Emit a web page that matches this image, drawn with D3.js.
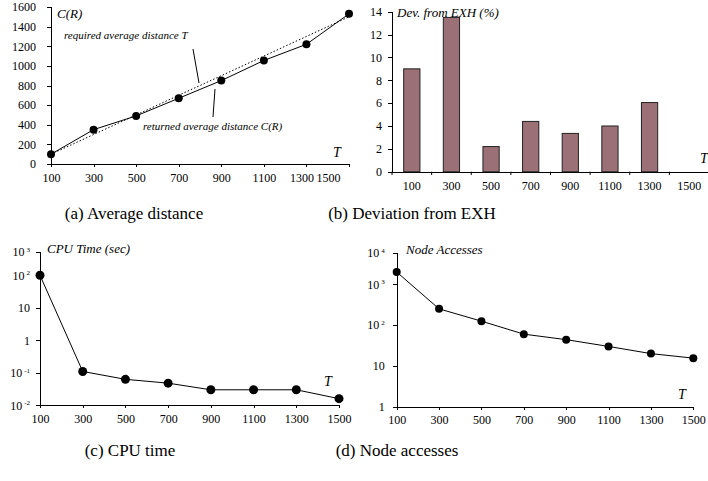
<!DOCTYPE html>
<meta charset="utf-8">
<style>
body { margin: 0; background: #fff; }
svg text { font-family: "Liberation Serif", "Times New Roman", serif; }
.axis path, .axis line { fill: none; stroke: #000; shape-rendering: crispEdges; }
.axis text { font-size: 12px; fill: #000; font-family: "Liberation Serif", "Times New Roman", serif; }
.lbl { font-style: italic; fill: #000; }
.cap { font-size: 17px; text-anchor: middle; }
</style>
<body>
<script src="https://cdn.jsdelivr.net/npm/d3@7"></script>
<script>
// T values shared by every panel
var T = [100, 300, 500, 700, 900, 1100, 1300, 1500];
var avgDist = [100, 350, 490, 670, 850, 1055, 1220, 1530];   // C(R)
var deviation = [9.0, 13.5, 2.2, 4.4, 3.35, 4.0, 6.05, 0];    // %
var cpuTime = [100, 0.11, 0.063, 0.048, 0.03, 0.03, 0.03, 0.016];
var nodeAcc = [2000, 250, 125, 60, 44, 30, 20, 15.5];

var distTicks = [0, 200, 400, 600, 800, 1000, 1200, 1400, 1600];
var devTicks = [0, 2, 4, 6, 8, 10, 12, 14];
// top tick of the log axes is labelled one decade up, as in the original
var cpuTicks = [0.01, 0.1, 1, 10, 100, 521], cpuExp = [-2, -1, 0, 1, 2, 3];
var nodeTicks = [1, 10, 100, 1000, 5850], nodeExp = [0, 1, 2, 3, 4];

var svg = d3.select("body").append("svg")
    .attr("width", 708)
    .attr("height", 481);

function xAxisLin(g, x, y0) {
  return g.append("g").attr("class", "axis")
      .attr("transform", "translate(0," + y0 + ")")
      .call(d3.axisBottom(x).tickValues(T).tickSize(3).tickPadding(6).tickFormat(d3.format("d")));
}

function expLabels(ax, exps) {
  ax.selectAll(".tick text").each(function(d, i) {
    var t = d3.select(this).text(""), e = exps[i];
    if (e === 0) { t.text("1"); return; }
    if (e === 1) { t.text("10"); return; }
    t.append("tspan").text("10");
    t.append("tspan").attr("dy", "-0.6em").attr("dx", "2").style("font-size", "7px").text(e);
  });
}

function dots(g, x, y, vals, r) {
  var pts = T.map(function(t, i) { return [t, vals[i]]; });
  g.append("path")
      .attr("d", d3.line().x(function(d) { return x(d[0]); }).y(function(d) { return y(d[1]); })(pts))
      .attr("fill", "none").attr("stroke", "#000").attr("stroke-width", 1);
  g.selectAll(null).data(pts).enter().append("circle")
      .attr("cx", function(d) { return x(d[0]); })
      .attr("cy", function(d) { return y(d[1]); })
      .attr("r", r).attr("fill", "#000");
}

function label(g, x, y, txt, size, anchor) {
  g.append("text").attr("class", "lbl")
      .attr("x", x).attr("y", y)
      .style("font-size", size + "px")
      .style("text-anchor", anchor || "start")
      .text(txt);
}

// (a) average distance
var ga = svg.append("g");
var xa = d3.scaleLinear().domain([100, 1500]).range([51, 349]);
var ya = d3.scaleLinear().domain([0, 1600]).range([164, 7]);
var ax = xAxisLin(ga, xa, 164);
// last two labels squeezed left to stay inside the panel
ax.selectAll(".tick text").attr("dx", function(d) { return d === 1500 ? -21 : d === 1300 ? -5 : 0; });
ga.append("g").attr("class", "axis").attr("transform", "translate(51,0)")
    .call(d3.axisLeft(ya).tickValues(distTicks).tickSize(4).tickPadding(11).tickFormat(d3.format("d")));
ga.append("path")
    .attr("d", d3.line().x(function(d) { return xa(d); }).y(function(d) { return ya(d); })(T))
    .attr("fill", "none").attr("stroke", "#000").attr("stroke-dasharray", "1.5,2");
dots(ga, xa, ya, avgDist, 4);
label(ga, 57, 18, "C(R)", 13);
label(ga, 337, 157, "T", 14, "middle");
label(ga, 64, 39, "required average distance T", 11);
label(ga, 143, 130, "returned average distance C(R)", 11);
ga.append("line").attr("x1", 193).attr("y1", 49).attr("x2", 199).attr("y2", 83).attr("stroke", "#000");
ga.append("line").attr("x1", 215).attr("y1", 89).attr("x2", 213).attr("y2", 117).attr("stroke", "#000");

// (b) deviation from EXH
var gb = svg.append("g");
var xb = d3.scaleBand().domain(T).range([392, 709]).paddingInner(0.59).paddingOuter(0.295);
var yb = d3.scaleLinear().domain([0, 14]).range([171.7, 11.7]);
gb.append("g").attr("class", "axis").attr("transform", "translate(0,171.7)")
    .call(d3.axisBottom(xb).tickSize(0).tickPadding(10));
// tick marks between categories
gb.selectAll(null).data(T).enter().append("line")
    .attr("x1", function(d) { return xb(d) - xb.step() * 0.295; })
    .attr("x2", function(d) { return xb(d) - xb.step() * 0.295; })
    .attr("y1", 171.7).attr("y2", 175)
    .attr("stroke", "#000");
gb.append("g").attr("class", "axis").attr("transform", "translate(392,0)")
    .call(d3.axisLeft(yb).tickValues(devTicks).tickSize(4).tickPadding(6));
gb.selectAll(".bar").data(T).enter().append("rect")
    .attr("class", "bar")
    .attr("x", function(d) { return xb(d); })
    .attr("width", xb.bandwidth())
    .attr("y", function(d, i) { return yb(deviation[i]); })
    .attr("height", function(d, i) { return yb(0) - yb(deviation[i]); })
    .attr("fill", "#9b7076")
    .attr("stroke", "#222")
    .attr("stroke-width", 1)
    .style("display", function(d, i) { return deviation[i] > 0 ? null : "none"; });
label(gb, 397, 17, "Dev. from EXH (%)", 13);
label(gb, 700, 163, "T", 14);

// (c) CPU time
var gc = svg.append("g");
var xc = d3.scaleLinear().domain([100, 1500]).range([40, 339]);
var yc = d3.scaleLog().domain([0.01, 521]).range([405.3, 252]);
xAxisLin(gc, xc, 405.3);
var cy = gc.append("g").attr("class", "axis").attr("transform", "translate(40,0)")
    .call(d3.axisLeft(yc).tickValues(cpuTicks).tickSize(4).tickPadding(6));
expLabels(cy, cpuExp);
dots(gc, xc, yc, cpuTime, 4.5);
label(gc, 47, 253, "CPU Time (sec)", 13);
label(gc, 328, 386, "T", 14, "middle");

// (d) node accesses
var gd = svg.append("g");
var xd = d3.scaleLinear().domain([100, 1500]).range([396.7, 693.3]);
var yd = d3.scaleLog().domain([1, 5850]).range([406.7, 253]);
xAxisLin(gd, xd, 406.7);
var dy = gd.append("g").attr("class", "axis").attr("transform", "translate(396.7,0)")
    .call(d3.axisLeft(yd).tickValues(nodeTicks).tickSize(4).tickPadding(8));
expLabels(dy, nodeExp);
dots(gd, xd, yd, nodeAcc, 4);
label(gd, 406, 254, "Node Accesses", 13);
label(gd, 682, 399, "T", 14, "middle");

// captions
svg.append("text").attr("class", "cap").attr("x", 134).attr("y", 219).text("(a) Average distance");
svg.append("text").attr("class", "cap").attr("x", 412).attr("y", 219).text("(b) Deviation from EXH");
svg.append("text").attr("class", "cap").attr("x", 130).attr("y", 456).text("(c) CPU time");
svg.append("text").attr("class", "cap").attr("x", 397).attr("y", 456).text("(d) Node accesses");
</script>
</body>
</html>
